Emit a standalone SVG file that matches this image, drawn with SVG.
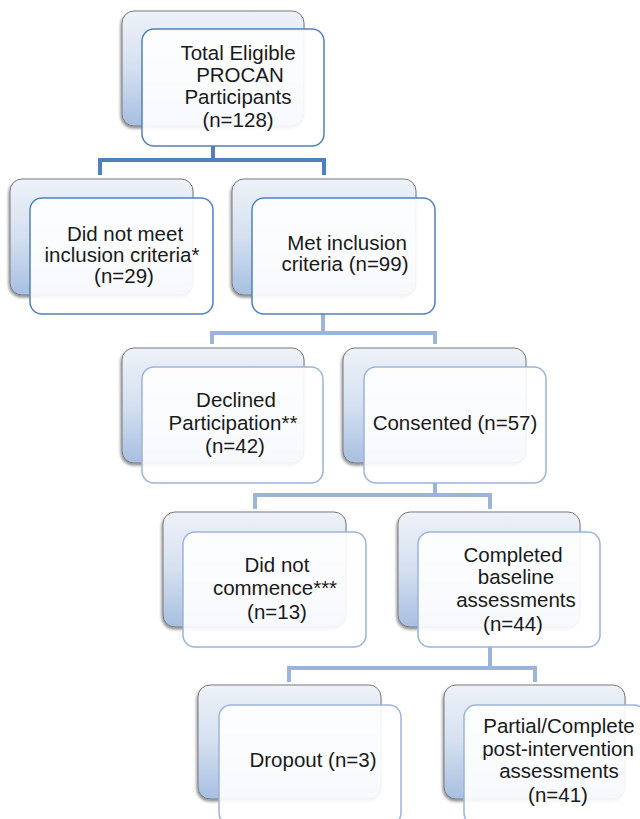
<svg xmlns="http://www.w3.org/2000/svg" width="640" height="819" viewBox="0 0 640 819">
<defs>
<linearGradient id="bg" x1="0" y1="0" x2="0" y2="1">
<stop offset="0" stop-color="#eef2f9"/>
<stop offset="0.5" stop-color="#d5e0f0"/>
<stop offset="1" stop-color="#a7bfe1"/>
</linearGradient>
<filter id="sh" x="-10%" y="-10%" width="125%" height="130%">
<feGaussianBlur in="SourceAlpha" stdDeviation="1.5"/>
<feOffset dx="-1" dy="2" result="b"/>
<feComponentTransfer><feFuncA type="linear" slope="0.45"/></feComponentTransfer>
<feMerge><feMergeNode/><feMergeNode in="SourceGraphic"/></feMerge>
</filter>
</defs>
<style>
.back{fill:url(#bg);stroke:#7a7a7a;stroke-width:1;filter:url(#sh)}
.f1{fill:#ffffff;fill-opacity:0.9;stroke:#4f81bd;stroke-width:1.5}
.f2{fill:#ffffff;fill-opacity:0.9;stroke:#9cb4da;stroke-width:1.5}
.c1{fill:none;stroke:#4f81bd;stroke-width:4}
.c2{fill:none;stroke:#9cb4da;stroke-width:4}
text{font-family:"Liberation Sans",Arial,sans-serif;font-size:20.5px;fill:#1a1a1a;text-anchor:middle}
</style>
<g id="connectors">
<path class="c1" d="M213,146 V160 M100,175 V160 H324 V175"/>
<path class="c2" d="M323,314 V333 M212,344 V333 H435 V344"/>
<path class="c2" d="M435,483 V495 M255,509 V495 H490 V509"/>
<path class="c2" d="M490,647 V668 M289,682 V668 H535 V682"/>
</g>
<g id="n1">
<rect class="back" x="122" y="11" width="182" height="115" rx="12"/>
<rect class="f1" x="142" y="29" width="182" height="117" rx="12"/>
<text x="238" y="60">Total Eligible</text>
<text x="240" y="82">PROCAN</text>
<text x="238" y="104">Participants</text>
<text x="238" y="127">(n=128)</text>
</g>
<g id="n2">
<rect class="back" x="10" y="179" width="183" height="116" rx="12"/>
<rect class="f1" x="30" y="198" width="183" height="116" rx="12"/>
<text x="125" y="241">Did not meet</text>
<text x="122" y="262">inclusion criteria*</text>
<text x="124" y="283">(n=29)</text>
</g>
<g id="n3">
<rect class="back" x="232" y="179" width="184" height="116" rx="12"/>
<rect class="f1" x="252" y="198" width="183" height="116" rx="12"/>
<text x="347" y="250">Met inclusion</text>
<text x="345" y="271">criteria (n=99)</text>
</g>
<g id="n4">
<rect class="back" x="122" y="348" width="182" height="115" rx="12"/>
<rect class="f2" x="142" y="367" width="181" height="116" rx="12"/>
<text x="236" y="407">Declined</text>
<text x="233" y="430">Participation**</text>
<text x="235" y="453">(n=42)</text>
</g>
<g id="n5">
<rect class="back" x="343" y="348" width="183" height="115" rx="12"/>
<rect class="f2" x="364" y="367" width="182" height="116" rx="12"/>
<text x="455" y="430">Consented (n=57)</text>
</g>
<g id="n6">
<rect class="back" x="163" y="512" width="183" height="115" rx="12"/>
<rect class="f2" x="183" y="532" width="183" height="115" rx="12"/>
<text x="277" y="572">Did not</text>
<text x="275" y="595">commence***</text>
<text x="277" y="619">(n=13)</text>
</g>
<g id="n7">
<rect class="back" x="398" y="512" width="182" height="115" rx="12"/>
<rect class="f2" x="418" y="532" width="182" height="115" rx="12"/>
<text x="513" y="562">Completed</text>
<text x="516" y="584">baseline</text>
<text x="516" y="607">assessments</text>
<text x="513" y="631">(n=44)</text>
</g>
<g id="n8">
<rect class="back" x="198" y="685" width="183" height="114" rx="12"/>
<rect class="f2" x="219" y="705" width="182" height="120" rx="12"/>
<text x="313" y="767">Dropout (n=3)</text>
</g>
<g id="n9">
<rect class="back" x="444" y="685" width="181" height="114" rx="12"/>
<rect class="f2" x="464" y="705" width="182" height="120" rx="12"/>
<text x="559" y="733">Partial/Complete</text>
<text x="558" y="756">post-intervention</text>
<text x="559" y="778">assessments</text>
<text x="558" y="802">(n=41)</text>
</g>
</svg>
